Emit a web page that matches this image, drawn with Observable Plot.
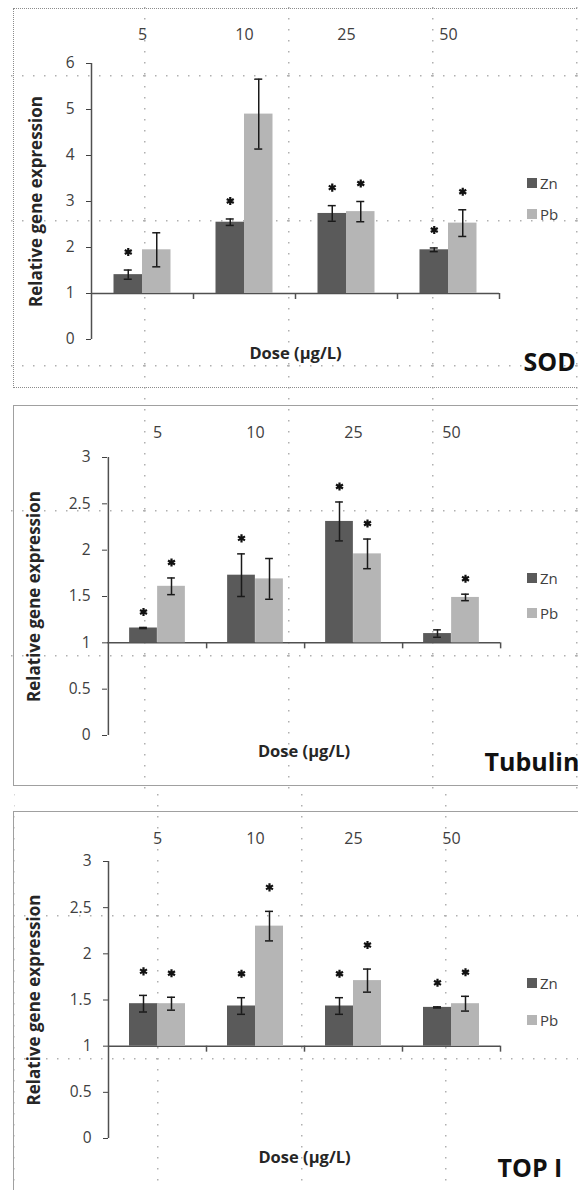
<!DOCTYPE html>
<html><head><meta charset="utf-8">
<script src="https://cdn.jsdelivr.net/npm/d3@7"></script>
<script src="https://cdn.jsdelivr.net/npm/@observablehq/plot@0.6"></script>
<style>
html,body{margin:0;padding:0;background:#fff;overflow:hidden;}
#page{position:relative;width:578px;height:1190px;overflow:hidden;font-family:"Open Sans",sans-serif;background:#fff;}
.grid{position:absolute;}
.panel{position:absolute;left:13px;width:600px;}
.panel svg{position:absolute;left:0;top:0;}
.lg{position:absolute;display:flex;align-items:center;font-size:15px;color:#404040;height:18px;line-height:18px;}
.lg .sw{width:10px;height:10px;margin-right:3px;display:inline-block;}
</style></head><body><div id="page"></div>
<script>
// ---------- data ----------
const doses = ["5", "10", "25", "50"];
const metals = ["Zn", "Pb"];
const metalColors = ["#5a5a5a", "#b5b5b5"];
const baseline = 1;
const xLabel = "Dose (µg/L)";
const yLabel = "Relative gene expression";

const sodTitle = "SOD";
const sodTicks = [0, 1, 2, 3, 4, 5, 6];
const sodZn = [1.41, 2.55, 2.74, 1.95];
const sodZnErr = [0.10, 0.07, 0.17, 0.04];
const sodPb = [1.95, 4.90, 2.78, 2.53];
const sodPbErr = [0.37, 0.76, 0.22, 0.29];
const sodZnStar = [true, true, true, true];
const sodPbStar = [false, false, true, true];

const tubTitle = "Tubulin";
const tubTicks = [0, 0.5, 1, 1.5, 2, 2.5, 3];
const tubZn = [1.16, 1.73, 2.31, 1.10];
const tubZnErr = [0.006, 0.23, 0.21, 0.04];
const tubPb = [1.61, 1.69, 1.96, 1.49];
const tubPbErr = [0.09, 0.22, 0.16, 0.035];
const tubZnStar = [true, true, true, false];
const tubPbStar = [true, false, true, true];

const topTitle = "TOP I";
const topTicks = [0, 0.5, 1, 1.5, 2, 2.5, 3];
const topZn = [1.46, 1.435, 1.435, 1.42];
const topZnErr = [0.09, 0.09, 0.09, 0.006];
const topPb = [1.46, 2.30, 1.71, 1.46];
const topPbErr = [0.07, 0.16, 0.125, 0.08];
const topZnStar = [true, true, true, true];
const topPbStar = [true, true, true, true];

// ---------- layout (pixels) ----------
const page = document.getElementById("page");
const W = 564;
const panels = [
  {title: sodTitle, ticks: sodTicks, zn: sodZn, znErr: sodZnErr, pb: sodPb, pbErr: sodPbErr, znStar: sodZnStar, pbStar: sodPbStar,
   top: 8, height: 378, border: "1px dotted #8c8c8c", ml: 77, mr: 79, mt: 54, mb: 48, barW: 28.5, starOff: 18,
   xPad: 24, doseDy: 19, yLabelDx: -55, titleDx: 24, titleDy: 31, lgTop: 165, lgGap: 31},
  {title: tubTitle, ticks: tubTicks, zn: tubZn, znErr: tubZnErr, pb: tubPb, pbErr: tubPbErr, znStar: tubZnStar, pbStar: tubPbStar,
   top: 405, height: 379, border: "1px solid #a0a0a0", ml: 93, mr: 78, mt: 51, mb: 50, barW: 28, starOff: 15.5,
   xPad: 20, doseDy: 21, yLabelDx: -73, titleDx: -16, titleDy: 35, lgTop: 163, lgGap: 35},
  {title: topTitle, ticks: topTicks, zn: topZn, znErr: topZnErr, pb: topPb, pbErr: topPbErr, znStar: topZnStar, pbStar: topPbStar,
   top: 811, height: 390, border: "1px solid #a0a0a0", ml: 94, mr: 78, mt: 49, mb: 64, barW: 28, starOff: 24,
   xPad: 18, doseDy: 24, yLabelDx: -74, titleDx: -3, titleDy: 38, lgTop: 162, lgGap: 37}
];

// background dotted page grid (decoration)
function tile(w, h) {
  const s = `<svg xmlns='http://www.w3.org/2000/svg' width='${w}' height='${h}'>` +
    `<line x1='0.75' y1='0' x2='0.75' y2='${h}' stroke='#b0b0b0' stroke-width='1.5' stroke-dasharray='1.5 9.5'/>` +
    `<line x1='0' y1='0.75' x2='${w}' y2='0.75' stroke='#b0b0b0' stroke-width='1.5' stroke-dasharray='1.5 9.5'/></svg>`;
  return `url("data:image/svg+xml,${encodeURIComponent(s)}")`;
}
function addGrid(left, top, w, h, px, py, tw, th) {
  const g = document.createElement("div");
  g.className = "grid";
  Object.assign(g.style, {left: left + "px", top: top + "px", width: w + "px", height: h + "px",
    backgroundImage: tile(tw, th), backgroundSize: `${tw}px ${th}px`, backgroundPosition: `${px}px ${py}px`});
  page.appendChild(g);
}
addGrid(10, 0, 568, 790, 134, 75, 144, 145);
addGrid(14, 790, 564, 400, 143, 125, 144, 143);

const axisColor = "#505050";
const errColor = "#1a1a1a";
const capW = 8;

panels.forEach(p => {
  const div = document.createElement("div");
  div.className = "panel";
  Object.assign(div.style, {top: p.top + "px", height: p.height + "px", border: p.border});
  page.appendChild(div);

  const rows = doses.flatMap((d, i) => [
    {dose: d, metal: "Zn", value: p.zn[i], err: p.znErr[i], star: p.znStar[i]},
    {dose: d, metal: "Pb", value: p.pb[i], err: p.pbErr[i], star: p.pbStar[i]}
  ]);
  const band = (W - p.ml - p.mr) / doses.length;
  const yMin = p.ticks[0], yMax = p.ticks[p.ticks.length - 1];

  const marks = [
    Plot.axisX({anchor: "top", tickSize: 0, tickPadding: p.xPad, fontSize: 16, color: "#404040", label: null}),
    Plot.axisY({ticks: p.ticks, tickFormat: d => String(d), tickSize: 5, tickPadding: 12, fontSize: 15.5,
      color: "#404040", label: null}),
    Plot.ruleY([baseline], {stroke: axisColor, strokeWidth: 1.5}),
    Plot.ruleX([doses[0]], {x: d => d, y1: yMin, y2: yMax, dx: -band / 2, stroke: axisColor, strokeWidth: 1.5}),
    Plot.ruleX(doses, {x: d => d, y1: baseline, y2: baseline, dx: band / 2, insetBottom: -6, stroke: axisColor, strokeWidth: 1.5})
  ];
  metals.forEach((m, k) => {
    const sub = rows.filter(r => r.metal === m);
    const off = (k === 0 ? -1 : 1) * p.barW / 2;
    const ins = (band - p.barW) / 2;
    const cins = (band - capW) / 2;
    marks.push(
      Plot.barY(sub, {x: "dose", y1: baseline, y2: "value", fill: metalColors[k], insetLeft: ins, insetRight: ins, dx: off}),
      Plot.ruleX(sub, {x: "dose", y1: d => d.value - d.err, y2: d => d.value + d.err, dx: off, stroke: errColor, strokeWidth: 1.5}),
      Plot.tickY(sub, {x: "dose", y: d => d.value + d.err, dx: off, insetLeft: cins, insetRight: cins, stroke: errColor, strokeWidth: 1.5}),
      Plot.tickY(sub, {x: "dose", y: d => d.value - d.err, dx: off, insetLeft: cins, insetRight: cins, stroke: errColor, strokeWidth: 1.5}),
      Plot.dot(sub.filter(d => d.star), {x: "dose", y: d => d.value + d.err, dx: off, dy: -p.starOff,
        symbol: "asterisk", r: 3.8, stroke: "#111", strokeWidth: 2.2})
    );
  });
  marks.push(
    Plot.text([yLabel], {frameAnchor: "left", textAnchor: "middle", dx: p.yLabelDx, rotate: -90, fontSize: 17, fontWeight: "bold", fill: "#262626"}),
    Plot.text([xLabel], {frameAnchor: "bottom", dy: p.doseDy, fontSize: 16.5, fontWeight: "bold", fill: "#262626"}),
    Plot.text([p.title], {frameAnchor: "bottom-right", textAnchor: "start", dx: p.titleDx, dy: p.titleDy,
      fontSize: 25, fontWeight: "bold", fill: "#111"})
  );

  const h = Math.min(p.height, 1190 - p.top - 1);
  const chart = Plot.plot({
    width: W, height: h,
    marginLeft: p.ml, marginRight: p.mr, marginTop: p.mt,
    marginBottom: p.mb - (p.height - h),
    x: {type: "band", domain: doses, padding: 0},
    y: {domain: [yMin, yMax]},
    style: {background: "transparent", fontFamily: "'Open Sans', sans-serif", overflow: "visible"},
    marks
  });
  div.appendChild(chart);

  metals.forEach((m, k) => {
    const row = document.createElement("div");
    row.className = "lg";
    Object.assign(row.style, {left: "513px", top: (p.lgTop + k * p.lgGap) + "px"});
    const sw = document.createElement("span");
    sw.className = "sw";
    sw.style.background = metalColors[k];
    row.appendChild(sw);
    row.appendChild(document.createTextNode(m));
    div.appendChild(row);
  });
});
</script></body></html>
